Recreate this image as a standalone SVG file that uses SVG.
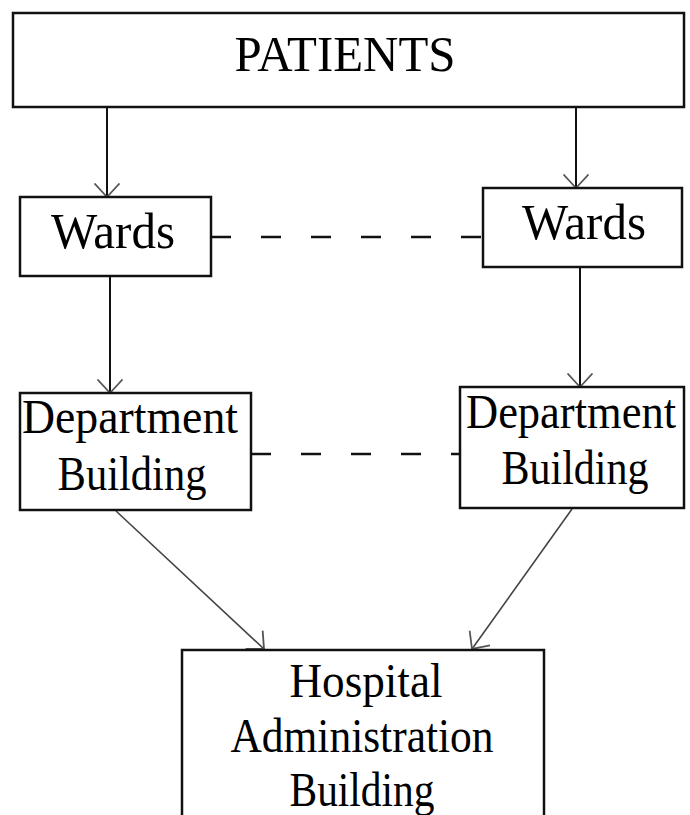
<svg xmlns="http://www.w3.org/2000/svg" width="690" height="815" viewBox="0 0 690 815">
  <style>
    .box { fill: #ffffff; stroke: #111111; stroke-width: 2.5; }
    .lbl { font-family: "Liberation Serif", "Times New Roman", serif; font-size: 51px; fill: #000000; text-anchor: middle; }
    .lbl2 { font-size: 49px; }
    .link { stroke: #111111; stroke-width: 2; fill: none; }
    .diag { stroke: #444444; stroke-width: 1.6; fill: none; }
    .dash { stroke: #111111; stroke-width: 2.5; fill: none; stroke-dasharray: 20 30; }
  </style>
  <defs>
    <!-- open chevron arrowhead, tip on the target edge -->
    <marker id="arrow" viewBox="0 0 16 28" refX="14.5" refY="14" markerWidth="16" markerHeight="28" markerUnits="userSpaceOnUse" orient="auto">
      <path d="M1,1.5 L14.5,14 L1,26.5" fill="none" stroke="#555555" stroke-width="1.8"/>
    </marker>
  </defs>
  <rect width="690" height="815" fill="#ffffff"/>

  <!-- connectors -->
  <g id="connectors">
    <line class="link" x1="107" y1="107" x2="107" y2="197" marker-end="url(#arrow)"/>
    <line class="link" x1="576" y1="107" x2="576" y2="188" marker-end="url(#arrow)"/>
    <line class="link" x1="110" y1="276" x2="110" y2="393" marker-end="url(#arrow)"/>
    <line class="link" x1="580" y1="267" x2="580" y2="387" marker-end="url(#arrow)"/>
    <line class="diag" x1="116" y1="511" x2="264" y2="649" marker-end="url(#arrow)"/>
    <line class="diag" x1="572" y1="509" x2="472" y2="649" marker-end="url(#arrow)"/>
    <line class="dash" x1="211" y1="237" x2="484" y2="237"/>
    <line class="dash" x1="251" y1="454" x2="460" y2="454"/>
  </g>

  <g id="patients">
    <rect class="box" x="13" y="13" width="671" height="94"/>
    <text class="lbl" x="345" y="71" textLength="221" lengthAdjust="spacingAndGlyphs">PATIENTS</text>
  </g>

  <g id="wards-left">
    <rect class="box" x="20" y="197" width="191" height="79"/>
    <text class="lbl" x="113" y="248" textLength="124" lengthAdjust="spacingAndGlyphs">Wards</text>
  </g>

  <g id="wards-right">
    <rect class="box" x="483" y="188" width="199" height="79"/>
    <text class="lbl" x="584" y="239" textLength="124" lengthAdjust="spacingAndGlyphs">Wards</text>
  </g>

  <g id="department-left">
    <rect class="box" x="20" y="393" width="231" height="117"/>
    <text class="lbl lbl2" x="130" y="433" textLength="216" lengthAdjust="spacingAndGlyphs">Department</text>
    <text class="lbl lbl2" x="132" y="490" textLength="149" lengthAdjust="spacingAndGlyphs">Building</text>
  </g>

  <g id="department-right">
    <rect class="box" x="460" y="387" width="224" height="121"/>
    <text class="lbl lbl2" x="571" y="428" textLength="210" lengthAdjust="spacingAndGlyphs">Department</text>
    <text class="lbl lbl2" x="575" y="484" textLength="147" lengthAdjust="spacingAndGlyphs">Building</text>
  </g>

  <g id="hospital-administration">
    <rect class="box" x="182" y="650" width="362" height="180"/>
    <text class="lbl lbl2" x="366" y="697" textLength="153" lengthAdjust="spacingAndGlyphs">Hospital</text>
    <text class="lbl lbl2" x="362" y="752" textLength="263" lengthAdjust="spacingAndGlyphs">Administration</text>
    <text class="lbl lbl2" x="362" y="806" textLength="145" lengthAdjust="spacingAndGlyphs">Building</text>
  </g>
</svg>
